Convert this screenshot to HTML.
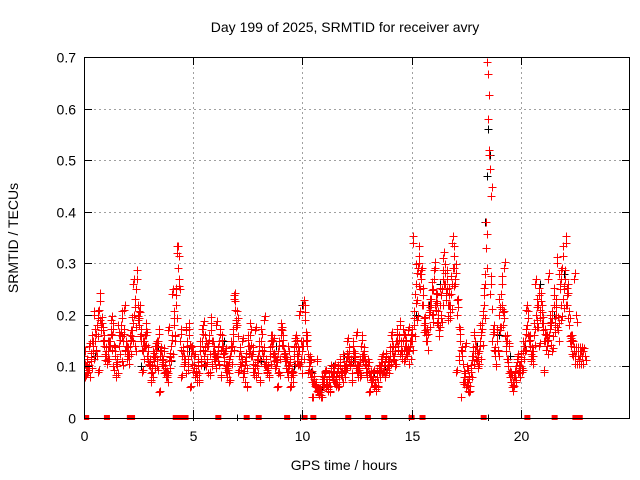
<!DOCTYPE html>
<html><head><meta charset="utf-8"><style>
body{margin:0;background:#fff;}
svg{display:block;font-family:"Liberation Sans",sans-serif;}
</style></head><body>
<svg id="chart" width="640" height="480">
<defs><clipPath id="plotclip"><rect x="84" y="57" width="546" height="364"/></clipPath></defs>
<text x="345" y="32" text-anchor="middle" font-size="14">Day 199 of 2025, SRMTID for receiver avry</text>
<text x="344" y="470" text-anchor="middle" font-size="14">GPS time / hours</text>
<text transform="translate(18,238) rotate(-90)" text-anchor="middle" font-size="14">SRMTID / TECUs</text>
<g id="grid"></g><g id="marks" clip-path="url(#plotclip)"></g><g id="axes"></g>
</svg>
<script>
const xTicks=[0,5,10,15,20];
const yTicks=[0,0.1,0.2,0.3,0.4,0.5,0.6,0.7];
const yTickLabels=["0","0.1","0.2","0.3","0.4","0.5","0.6","0.7"];
const redAStart=0, redAStep=0.1;
const redA=[0.12,0.10,0.09,0.11,0.13,0.15,0.18,0.21,0.17,0.14,0.12,
0.13,0.15,0.16,0.12,0.10,0.14,0.18,0.15,0.13,0.12,
0.14,0.17,0.20,0.25,0.18,0.15,0.13,0.16,0.12,0.10,
0.09,0.11,0.13,0.15,0.12,0.10,0.09,0.08,0.11,0.14,
0.18,0.22,0.29,0.15,0.12,0.10,0.13,0.16,0.12,0.09,
0.08,0.10,0.13,0.15,0.12,0.10,0.14,0.17,0.13,0.11,
0.12,0.15,0.14,0.11,0.09,0.10,0.12,0.15,0.21,0.18,
0.12,0.10,0.08,0.11,0.14,0.16,0.12,0.09,0.10,0.13,
0.15,0.12,0.10,0.09,0.12,0.14,0.11,0.10,0.13,0.16,
0.14,0.11,0.09,0.10,0.08,0.12,0.14,0.12,0.10,0.13,
0.19,0.14,0.10,0.08,0.07,0.06,0.05,0.05,0.07,0.08,
0.06,0.07,0.09,0.08,0.07,0.09,0.10,0.08,0.09,0.11,
0.12,0.10,0.13,0.11,0.09,0.10,0.14,0.12,0.09,0.10,
0.08,0.07,0.06,0.08,0.09,0.10,0.09,0.11,0.10,0.12,
0.13,0.12,0.15,0.14,0.13,0.15,0.14,0.12,0.13,0.15,
0.18,0.26,0.29,0.25,0.22,0.17,0.15,0.20,0.23,0.25,
0.21,0.18,0.22,0.25,0.26,0.25,0.22,0.24,0.29,0.26,
0.20,0.15,0.12,0.08,0.06,0.07,0.09,0.12,0.13,0.11,
0.13,0.16,0.22,0.33,0.58,0.24,0.15,0.12,0.15,0.20,
0.24,0.18,0.13,0.10,0.08,0.06,0.08,0.10,0.09,0.11,
0.13,0.15,0.18,0.14,0.12,0.16,0.20,0.22,0.21,0.17,
0.15,0.14,0.16,0.18,0.22,0.20,0.17,0.25,0.29,0.25,
0.22,0.18,0.14,0.12,0.12,0.12,0.12,0.12];
const redBStart=0.05, redBStep=0.2;
const redB=[0.08,0.14,0.20,0.09,0.17,0.11,0.19,0.08,0.16,0.21,
0.12,0.26,0.19,0.09,0.16,0.07,0.14,0.05,0.13,0.17,
0.24,0.32,0.08,0.17,0.06,0.12,0.07,0.18,0.14,0.10,
0.18,0.08,0.13,0.07,0.23,0.09,0.15,0.06,0.12,0.17,
0.07,0.19,0.08,0.15,0.06,0.17,0.11,0.06,0.15,0.20,
0.22,0.09,0.04,0.11,0.04,0.09,0.05,0.10,0.06,0.12,
0.15,0.07,0.16,0.08,0.11,0.05,0.09,0.06,0.12,0.09,
0.16,0.10,0.18,0.11,0.17,0.34,0.19,0.28,0.16,0.21,
0.29,0.17,0.31,0.19,0.34,0.09,0.04,0.14,0.05,0.16,
0.10,0.20,0.69,0.43,0.10,0.17,0.29,0.14,0.06,0.12,
0.09,0.21,0.11,0.26,0.14,0.09,0.27,0.13,0.30,0.19,
0.34,0.15,0.27,0.11,0.13];
const redCStart=0.15, redCStep=0.2;
const redC=[0.10,0.16,0.13,0.19,0.12,0.15,0.10,0.18,0.11,0.14,
0.17,0.14,0.22,0.15,0.11,0.13,0.10,0.12,0.09,0.12,
0.16,0.27,0.13,0.10,0.14,0.09,0.11,0.16,0.09,0.13,
0.11,0.14,0.10,0.15,0.19,0.13,0.11,0.14,0.09,0.12,
0.13,0.10,0.16,0.12,0.09,0.13,0.14,0.09,0.11,0.15,
0.16,0.12,0.07,0.05,0.07,0.06,0.08,0.07,0.09,0.10,
0.11,0.13,0.10,0.12,0.09,0.08,0.06,0.10,0.09,0.11,
0.12,0.15,0.13,0.14,0.16,0.24,0.30,0.18,0.22,0.20,
0.24,0.20,0.26,0.22,0.29,0.12,0.07,0.10,0.12,0.14,
0.18,0.28,0.52,0.18,0.13,0.22,0.16,0.09,0.08,0.10,
0.14,0.16,0.13,0.19,0.22,0.16,0.20,0.18,0.28,0.23,
0.26,0.16,0.20,0.13,0.12];
const blackHours=[0.0,0.5,1.3,2.6,3.4,4.0,4.8,5.5,6.4,7.2,8.1,8.8,9.6,10.0,10.4,10.9,11.4,11.9,12.3,12.8,13.3,13.8,14.4,15.2,15.8,16.3,16.8,17.3,18.0,18.35,18.45,18.5,18.6,19.0,19.5,20.2,20.9,21.5,22.0,22.6];
const blackVals=[0.18,0.12,0.16,0.10,0.14,0.11,0.13,0.10,0.15,0.12,0.11,0.14,0.10,0.22,0.09,0.06,0.10,0.12,0.11,0.13,0.09,0.10,0.14,0.20,0.22,0.26,0.24,0.12,0.14,0.38,0.47,0.56,0.51,0.16,0.12,0.14,0.26,0.20,0.28,0.13];
const redZeroHours=[0.05,0.1,1.05,2.1,2.2,4.2,4.4,4.65,6.15,7.45,8.0,9.3,10.1,10.5,12.1,13.0,13.75,15.0,15.5,18.3,20.3,21.55,22.5,22.7];
const blackZeroHours=[5.0,7.0,9.9,14.9,18.5];

const X0=84,X1=630,Y0=418,Y1=57;
const xs=h=>X0+(h/25)*(X1-X0);
const ys=v=>Y0-(v/0.7)*(Y0-Y1);
const NS="http://www.w3.org/2000/svg";
const grid=document.getElementById('grid'),marks=document.getElementById('marks'),axes=document.getElementById('axes');
function mk(tag,attrs,parent){const e=document.createElementNS(NS,tag);for(const k in attrs)e.setAttribute(k,attrs[k]);parent.appendChild(e);return e;}
yTicks.forEach((v,i)=>{const y=Math.round(ys(v))+0.5;
 if(i>0&&i<yTicks.length-1){const g=mk('line',{x1:X0,x2:X1,y1:y,y2:y,stroke:'#a0a0a0','stroke-dasharray':'2,3'},grid);
 
 }
 const t=mk('line',{x1:X0,x2:X0+8,y1:y,y2:y,stroke:'#000'},axes);
 const t2=mk('line',{x1:X1-8,x2:X1,y1:y,y2:y,stroke:'#000'},axes);
 const l=mk('text',{x:X0-8,y:y+5,'text-anchor':'end','font-size':'14'},axes);l.textContent=yTickLabels[i];
 
 });
xTicks.forEach(h=>{const x=Math.round(xs(h))+0.5;
 if(h>0){const g=mk('line',{x1:x,x2:x,y1:Y1,y2:Y0,stroke:'#a0a0a0','stroke-dasharray':'2,3'},grid);
 
 }
 const t=mk('line',{x1:x,x2:x,y1:Y0-8,y2:Y0,stroke:'#000'},axes);
 const t2=mk('line',{x1:x,x2:x,y1:Y1,y2:Y1+8,stroke:'#000'},axes);
 const l=mk('text',{x:x,y:Y0+23,'text-anchor':'middle','font-size':'14'},axes);l.textContent=String(h);
 
 });
const frame=mk('rect',{x:X0+0.5,y:Y1+0.5,width:X1-X0-1,height:Y0-Y1,fill:'none',stroke:'#000'},axes);


function cross(h,v,color,name){const x=Math.round(xs(h))+0.5,y=Math.round(ys(v))+0.5;
 const p=mk('path',{d:`M${x-4} ${y}H${x+4}M${x} ${y-4}V${y+4}`,stroke:color,'stroke-width':1},marks);
 
 }
blackHours.forEach((h,i)=>cross(h,blackVals[i],'#000','black-point'));
blackZeroHours.forEach(h=>cross(h,0,'#000','black-zero-point'));
redA.forEach((v,i)=>{const h=redAStart+i*redAStep;
 cross(h,v,'#f00','red-point');
 cross(h+0.03,v*1.08,'#f00','red-point');
 cross(h+0.06,v*0.88,'#f00','red-point');
 cross(h+0.02,v*1.15,'#f00','red-point');});
redB.forEach((v,i)=>{const h=redBStart+i*redBStep;cross(h,v,'#f00','red-point');cross(h+0.03,v*1.04,'#f00','red-point');});
redC.forEach((v,i)=>{const h=redCStart+i*redCStep;cross(h,v,'#f00','red-point');cross(h+0.03,v*0.93,'#f00','red-point');});
redZeroHours.forEach(h=>{const x=xs(h),y=ys(0);const r=mk('rect',{x:x-3,y:y-3,width:6,height:5,fill:'#f00'},marks);
 
 });
</script>
</body></html>
